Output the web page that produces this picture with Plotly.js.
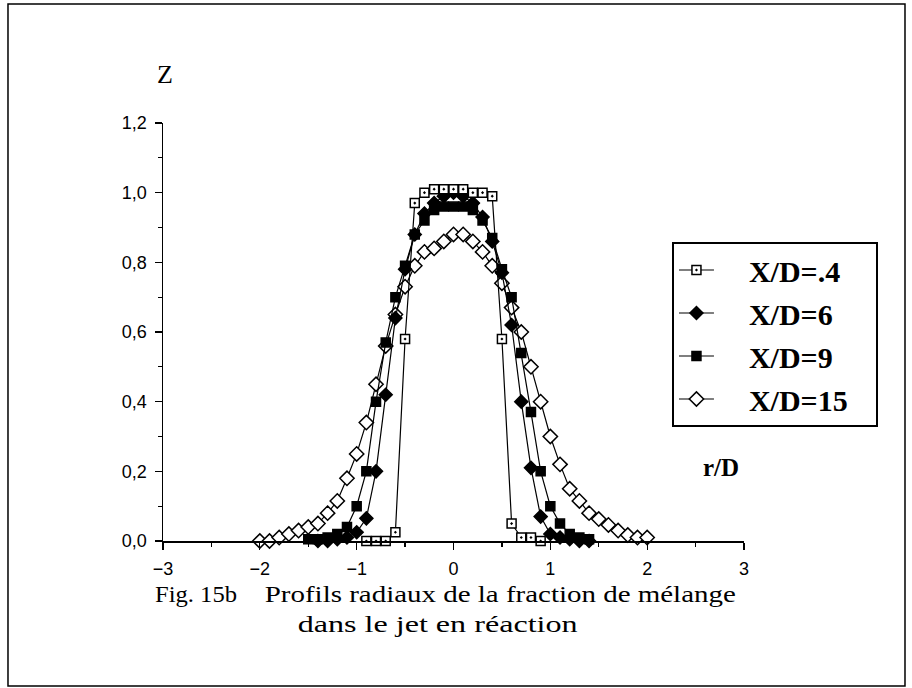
<!DOCTYPE html>
<html>
<head>
<meta charset="utf-8">
<script src="https://cdn.plot.ly/plotly-3.0.1.min.js"></script>
<style>
  html, body { margin: 0; padding: 0; background: #fff; }
  #chart { width: 912px; height: 688px; }
</style>
</head>
<body>
<div id="chart"></div>
<script>
// ---- data ----
const seriesNames = ["X/D=.4", "X/D=6", "X/D=9", "X/D=15"];

const r04 = [-0.9, -0.8, -0.7, -0.6, -0.5, -0.4, -0.3, -0.2, -0.1, 0, 0.1, 0.2, 0.3, 0.4, 0.5, 0.6, 0.7, 0.8, 0.9];
const z04 = [0.0, 0.0, 0.0, 0.025, 0.58, 0.97, 1.0, 1.01, 1.01, 1.01, 1.01, 1.0, 1.0, 0.99, 0.58, 0.05, 0.01, 0.01, 0.0];

const r6 = [-1.4, -1.3, -1.2, -1.1, -1.0, -0.9, -0.8, -0.7, -0.6, -0.5, -0.4, -0.3, -0.2, -0.1, 0, 0.1, 0.2, 0.3, 0.4, 0.5, 0.6, 0.7, 0.8, 0.9, 1.0, 1.1, 1.2, 1.3, 1.4];
const z6 = [0.0, 0.0, 0.005, 0.01, 0.025, 0.065, 0.20, 0.42, 0.64, 0.78, 0.88, 0.94, 0.97, 0.99, 1.0, 0.99, 0.97, 0.93, 0.86, 0.77, 0.62, 0.40, 0.21, 0.07, 0.02, 0.01, 0.005, 0.0, 0.0];

const r9 = [-1.5, -1.4, -1.3, -1.2, -1.1, -1.0, -0.9, -0.8, -0.7, -0.6, -0.5, -0.4, -0.3, -0.2, -0.1, 0, 0.1, 0.2, 0.3, 0.4, 0.5, 0.6, 0.7, 0.8, 0.9, 1.0, 1.1, 1.2, 1.3, 1.4];
const z9 = [0.005, 0.005, 0.01, 0.02, 0.04, 0.10, 0.20, 0.40, 0.57, 0.70, 0.79, 0.88, 0.92, 0.95, 0.96, 0.96, 0.96, 0.95, 0.92, 0.87, 0.78, 0.70, 0.54, 0.37, 0.20, 0.10, 0.05, 0.02, 0.01, 0.005];

const r15 = [-2.0, -1.9, -1.8, -1.7, -1.6, -1.5, -1.4, -1.3, -1.2, -1.1, -1.0, -0.9, -0.8, -0.7, -0.6, -0.5, -0.4, -0.3, -0.2, -0.1, 0, 0.1, 0.2, 0.3, 0.4, 0.5, 0.6, 0.7, 0.8, 0.9, 1.0, 1.1, 1.2, 1.3, 1.4, 1.5, 1.6, 1.7, 1.8, 1.9, 2.0];
const z15 = [0.0, 0.0, 0.01, 0.02, 0.03, 0.04, 0.05, 0.08, 0.115, 0.18, 0.25, 0.34, 0.45, 0.56, 0.65, 0.73, 0.79, 0.83, 0.84, 0.86, 0.88, 0.88, 0.86, 0.83, 0.79, 0.74, 0.67, 0.60, 0.50, 0.40, 0.30, 0.22, 0.15, 0.115, 0.08, 0.063, 0.046, 0.03, 0.017, 0.01, 0.01];

const xTickVals = [-3, -2, -1, 0, 1, 2, 3];
const yTickVals = [0, 0.2, 0.4, 0.6, 0.8, 1.0, 1.2];

const captionFig = "Fig. 15b";
const captionLine1 = "Profils radiaux de la fraction de mélange";
const captionLine2 = "dans le jet en réaction";

// ---- traces ----
const sans = "Liberation Sans, Arial, Helvetica, sans-serif";
const serif = "Liberation Serif, Times New Roman, serif";
const padL = "\u00a0\u00a0\u00a0\u00a0";
const padR = "\u00a0\u00a0\u00a0";

function trace(x, y, name, symbol, fill, size, group, rank) {
  return {
    x: x, y: y, name: padL + name + padR, type: "scatter", mode: "lines+markers",
    legendgroup: group, legendrank: rank,
    line: { color: "#000", width: 1.2 },
    marker: { symbol: symbol, size: size, color: fill, line: { color: "#000", width: 1.5 } },
    cliponaxis: false
  };
}

const data = [
  trace(r15, z15, seriesNames[3], "diamond", "#fff", 11, "d", 4),
  trace(r9, z9, seriesNames[2], "square", "#000", 9, "c", 3),
  trace(r6, z6, seriesNames[1], "diamond", "#000", 10, "b", 2),
  trace(r04, z04, seriesNames[0], "square-dot", "#fff", 9, "a", 1)
];

const layout = {
  width: 912, height: 688,
  margin: { l: 163, r: 168, t: 123, b: 147 },
  paper_bgcolor: "#fff", plot_bgcolor: "#fff",
  separators: ",.",
  showlegend: true,
  legend: {
    x: 0.876, y: 0.7153, xanchor: "left", yanchor: "top",
    traceorder: "grouped",
    tracegroupgap: 1,
    bgcolor: "#fff", bordercolor: "#000", borderwidth: 2,
    font: { family: serif, size: 30, color: "#000", weight: "bold" },
    itemwidth: 35
  },
  xaxis: {
    range: [-3, 3], showgrid: false, zeroline: false,
    showline: true, linecolor: "#000", linewidth: 1.5,
    tickmode: "array", tickvals: xTickVals,
    ticks: "outside", ticklen: 7, tickwidth: 1.2, tickcolor: "#000",
    ticklabelstandoff: 4,
    minor: { dtick: 0.5, ticks: "outside", ticklen: 4, tickcolor: "#000", showgrid: false },
    tickfont: { family: sans, size: 18, color: "#000" },
    fixedrange: true
  },
  yaxis: {
    range: [0, 1.2], showgrid: false, zeroline: false,
    showline: true, linecolor: "#000", linewidth: 1.5,
    tickmode: "array", tickvals: yTickVals, tickformat: ".1f",
    ticks: "outside", ticklen: 7, tickwidth: 1.2, tickcolor: "#000",
    ticklabelstandoff: 4,
    minor: { dtick: 0.1, ticks: "outside", ticklen: 4, tickcolor: "#000", showgrid: false },
    tickfont: { family: sans, size: 18, color: "#000" },
    fixedrange: true
  },
  annotations: [
    { text: "Z", xref: "paper", yref: "paper", x: 0.003, y: 1.115, xanchor: "center", yanchor: "middle",
      showarrow: false, font: { family: serif, size: 26, color: "#000" } },
    { text: "r/D", xref: "paper", yref: "paper", x: 0.96, y: 0.175, xanchor: "center", yanchor: "middle",
      showarrow: false, font: { family: serif, size: 25, color: "#000", weight: "bold" } },
    { text: captionFig, xref: "paper", yref: "paper", x: 0.0568, y: -0.1268, xanchor: "center", yanchor: "middle",
      showarrow: false, font: { family: serif, size: 24, color: "#000" } },
    { text: captionLine1, xref: "paper", yref: "paper", x: 0.5809, y: -0.1268,
      xanchor: "center", yanchor: "middle", showarrow: false, font: { family: serif, size: 24, color: "#000" } },
    { text: captionLine2, xref: "paper", yref: "paper", x: 0.4733, y: -0.1986,
      xanchor: "center", yanchor: "middle", showarrow: false, font: { family: serif, size: 24, color: "#000" } }
  ],
  shapes: [
    { type: "rect", xref: "paper", yref: "paper", x0: -0.2668, x1: 1.2771, y0: -0.3469, y1: 1.2847,
      line: { color: "#000", width: 1.5 }, fillcolor: "rgba(0,0,0,0)", layer: "below" }
  ]
};

const captionWidths = {};
captionWidths[captionFig] = 82;
captionWidths[captionLine1] = 471;
captionWidths[captionLine2] = 280;

Plotly.newPlot("chart", data, layout, { staticPlot: true, displayModeBar: false }).then(function (gd) {
  gd.querySelectorAll(".annotation-text").forEach(function (el) {
    const w = captionWidths[el.textContent];
    if (w) {
      el.setAttribute("textLength", w);
      el.setAttribute("lengthAdjust", "spacingAndGlyphs");
    }
  });
});
</script>
</body>
</html>
